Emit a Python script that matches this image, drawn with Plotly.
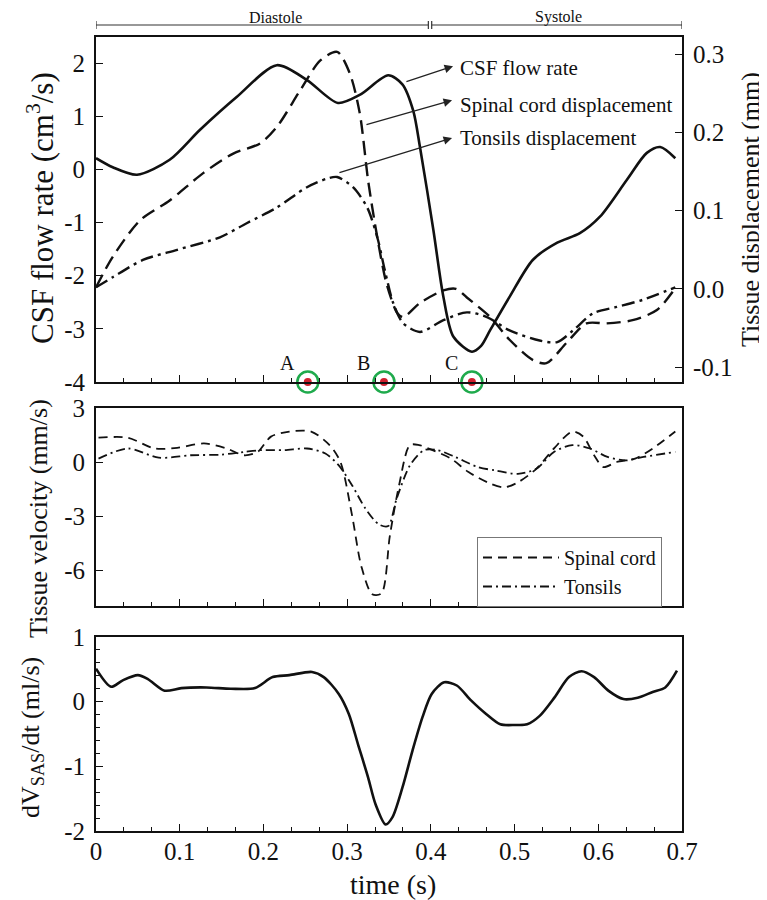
import plotly.graph_objects as go

# ---------------- data ----------------
t_csf = [0, 0.02, 0.049, 0.088, 0.124, 0.168, 0.216, 0.252, 0.289, 0.315, 0.349, 0.366, 0.379, 0.387,
         0.403, 0.415, 0.427, 0.449, 0.46, 0.471, 0.494, 0.522, 0.551, 0.578, 0.602, 0.634, 0.658, 0.674, 0.692]
csf_flow = [0.21, 0.04, -0.10, 0.18, 0.74, 1.36, 1.96, 1.68, 1.25, 1.40, 1.77, 1.6, 1.1, 0.42,
            -1.14, -2.40, -3.15, -3.43, -3.32, -3.02, -2.4, -1.70, -1.38, -1.2, -0.89, -0.2, 0.31, 0.42, 0.21]

t_sc_disp = [0, 0.02, 0.053, 0.088, 0.128, 0.164, 0.196, 0.216, 0.244, 0.268, 0.288, 0.303, 0.315, 0.325,
             0.336, 0.347, 0.36, 0.367, 0.387, 0.415, 0.43, 0.443, 0.471, 0.494, 0.522, 0.538, 0.562,
             0.586, 0.61, 0.641, 0.67, 0.692]
sc_disp = [0.002, 0.041, 0.088, 0.113, 0.148, 0.173, 0.186, 0.207, 0.254, 0.292, 0.303, 0.276, 0.225, 0.139,
           0.066, 0.007, -0.031, -0.036, -0.018, -0.002, 0.0, -0.011, -0.036, -0.065, -0.091, -0.095, -0.069,
           -0.044, -0.044, -0.04, -0.027, 0.001]

t_ton_disp = [0, 0.02, 0.056, 0.097, 0.148, 0.18, 0.216, 0.252, 0.276, 0.288, 0.307, 0.324, 0.336, 0.345,
              0.355, 0.367, 0.387, 0.415, 0.443, 0.467, 0.494, 0.53, 0.551, 0.57, 0.594, 0.622, 0.653, 0.692]
ton_disp = [0.002, 0.015, 0.037, 0.05, 0.066, 0.084, 0.104, 0.13, 0.141, 0.143, 0.13, 0.104, 0.066, 0.024,
            -0.018, -0.044, -0.055, -0.04, -0.03, -0.036, -0.053, -0.066, -0.068, -0.053, -0.031, -0.023, -0.014, 0.002]

t_sc_vel = [0.003, 0.038, 0.07, 0.097, 0.129, 0.156, 0.177, 0.193, 0.209, 0.231, 0.257, 0.279, 0.292, 0.306,
            0.317, 0.33, 0.341, 0.351, 0.362, 0.375, 0.386, 0.402, 0.424, 0.445, 0.472, 0.488, 0.504, 0.526,
            0.547, 0.569, 0.582, 0.595, 0.606, 0.622, 0.644, 0.665, 0.692]
sc_vel = [1.35, 1.35, 0.75, 0.79, 1.03, 0.75, 0.375, 0.56, 1.41, 1.69, 1.69, 0.94, 0.0, -3.0,
          -5.8, -7.35, -7.3, -4.1, -1.3, 0.94, 0.94, 0.66, 0.19, -0.56, -1.22, -1.41, -1.13, -0.38,
          0.75, 1.69, 1.41, 0.375, -0.28, 0.0, 0.19, 0.75, 1.69]

t_ton_vel = [0.003, 0.038, 0.075, 0.113, 0.15, 0.177, 0.198, 0.225, 0.252, 0.274, 0.29, 0.306, 0.322, 0.338,
             0.349, 0.359, 0.375, 0.392, 0.408, 0.429, 0.456, 0.477, 0.504, 0.526, 0.547, 0.569, 0.59,
             0.611, 0.633, 0.654, 0.692]
ton_vel = [0.19, 0.75, 0.24, 0.375, 0.41, 0.56, 0.66, 0.66, 0.75, 0.47, -0.19, -1.3, -2.6, -3.47,
           -3.56, -2.06, -0.19, 0.66, 0.66, 0.28, -0.28, -0.47, -0.66, -0.375, 0.56, 0.94, 0.75,
           0.28, 0.09, 0.28, 0.56]

t_dv = [0, 0.018, 0.032, 0.05, 0.062, 0.082, 0.102, 0.132, 0.161, 0.19, 0.211, 0.231, 0.258, 0.272, 0.29,
        0.302, 0.313, 0.325, 0.334, 0.346, 0.354, 0.366, 0.378, 0.39, 0.401, 0.416, 0.431, 0.448, 0.466,
        0.483, 0.501, 0.515, 0.53, 0.548, 0.565, 0.58, 0.595, 0.612, 0.63, 0.647, 0.665, 0.68, 0.694]
dv_sas = [0.51, 0.23, 0.33, 0.41, 0.35, 0.17, 0.21, 0.22, 0.2, 0.21, 0.38, 0.41, 0.46, 0.38, 0.12,
          -0.19, -0.66, -1.17, -1.59, -1.9, -1.79, -1.33, -0.76, -0.24, 0.12, 0.30, 0.25, 0.02, -0.19,
          -0.35, -0.36, -0.35, -0.22, 0.07, 0.38, 0.47, 0.38, 0.17, 0.04, 0.06, 0.15, 0.22, 0.48]

point_t = [0.253, 0.344, 0.449]
point_y = [-4, -4, -4]
point_labels = ["A", "B", "C"]

x_ticks = [0, 0.1, 0.2, 0.3, 0.4, 0.5, 0.6, 0.7]
x_ticktext = ["0", "0.1", "0.2", "0.3", "0.4", "0.5", "0.6", "0.7"]
y1_ticks = [2, 1, 0, -1, -2, -3, -4]
y1_text = ["2", "1", "0", "-1", "-2", "-3", "-4"]
y2_ticks = [0.3, 0.2, 0.1, 0.0, -0.1]
y2_text = ["0.3", "0.2", "0.1", "0.0", "-0.1"]
y3_ticks = [3, 0, -3, -6]
y3_text = ["3", "0", "-3", "-6"]
y4_ticks = [1, 0, -1, -2]
y4_text = ["1", "0", "-1", "-2"]

phase_names = ["Diastole", "Systole"]
phase_centers = [0.215, 0.552]
phase_bounds = [0.0, 0.397, 0.401, 0.7]

# ---------------- figure ----------------
FONT = "Liberation Serif"
INK = "#111111"
W, H = 767, 900
OFF = 8              # page body margin offset (screen px)
L_SCR, R_SCR = 96, 682  # plot-area left/right edges on screen
ML = L_SCR - OFF
MR = W - (R_SCR - OFF)
PW = R_SCR - L_SCR


def py(p):  # screen pixel y -> paper y
    return 1 - (p - OFF) / H


def px(p):  # screen pixel x -> paper x
    return (p - L_SCR) / PW


fig = go.Figure()

sm = 0.8
fig.add_trace(go.Scatter(x=t_csf, y=csf_flow, mode="lines", line=dict(color=INK, width=2.6, shape="spline", smoothing=sm),
                         xaxis="x", yaxis="y", showlegend=False))
fig.add_trace(go.Scatter(x=t_sc_disp, y=sc_disp, mode="lines",
                         line=dict(color=INK, width=2.4, dash="14px,7px", shape="spline", smoothing=sm),
                         xaxis="x", yaxis="y2", showlegend=False))
fig.add_trace(go.Scatter(x=t_ton_disp, y=ton_disp, mode="lines",
                         line=dict(color=INK, width=2.4, dash="13px,5px,3px,5px", shape="spline", smoothing=sm),
                         xaxis="x", yaxis="y2", showlegend=False))

fig.add_trace(go.Scatter(x=point_t, y=point_y, mode="markers", cliponaxis=False,
                         marker=dict(symbol="circle-open", size=21, line=dict(color="#1faa4c", width=2.5), color="#1faa4c"),
                         xaxis="x", yaxis="y", showlegend=False))
fig.add_trace(go.Scatter(x=point_t, y=point_y, mode="markers", cliponaxis=False,
                         marker=dict(symbol="circle", size=8, color="#d0202e"),
                         xaxis="x", yaxis="y", showlegend=False))

fig.add_trace(go.Scatter(x=t_sc_vel, y=sc_vel, mode="lines", name="Spinal cord",
                         line=dict(color=INK, width=1.8, dash="9px,6px", shape="spline", smoothing=sm),
                         xaxis="x2", yaxis="y3"))
fig.add_trace(go.Scatter(x=t_ton_vel, y=ton_vel, mode="lines", name="Tonsils",
                         line=dict(color=INK, width=1.8, dash="9px,4px,2px,4px", shape="spline", smoothing=sm),
                         xaxis="x2", yaxis="y3"))

fig.add_trace(go.Scatter(x=t_dv, y=dv_sas, mode="lines", line=dict(color=INK, width=2.6, shape="spline", smoothing=sm),
                         xaxis="x3", yaxis="y4", showlegend=False))

tickfont = dict(family=FONT, size=25, color=INK)
common_x = dict(range=[0, 0.7], showline=True, mirror=True, linecolor=INK, linewidth=2, ticks="inside",
                ticklen=7, tickwidth=1.2, tickcolor=INK, tickvals=x_ticks, ticktext=x_ticktext,
                showgrid=False, zeroline=False, tickfont=tickfont, automargin=False,
                minor=dict(ticks="inside", ticklen=4, tickwidth=1, tickcolor=INK, dtick=0.1 / 3, tick0=0, showgrid=False))
common_y = dict(showline=True, mirror=True, linecolor=INK, linewidth=2, ticks="inside", ticklen=7,
                tickwidth=1.2, tickcolor=INK, showgrid=False, zeroline=False, tickfont=tickfont, ticklabelstandoff=4,
                automargin=False)

dom1 = [py(382), py(37)]
dom2 = [py(606), py(408)]
dom3 = [py(831), py(637)]

fig.update_layout(
    template="none",
    width=W, height=H,
    margin=dict(l=ML, r=MR, t=0, b=0, autoexpand=False),
    paper_bgcolor="white", plot_bgcolor="white",
    font=dict(family=FONT, color=INK),
    xaxis=dict(common_x, anchor="y", domain=[0, 1], showticklabels=False),
    yaxis=dict(common_y, domain=dom1, range=[-4, 2.49], tickvals=y1_ticks, ticktext=y1_text),
    yaxis2=dict(common_y, overlaying="y", side="right", anchor="x", range=[-0.119, 0.322],
                tickvals=y2_ticks, ticktext=y2_text, mirror=False),
    xaxis2=dict(common_x, anchor="y3", domain=[0, 1], showticklabels=False, matches="x"),
    yaxis3=dict(common_y, domain=dom2, range=[-8, 3], tickvals=y3_ticks, ticktext=y3_text, anchor="x2"),
    xaxis3=dict(common_x, anchor="y4", domain=[0, 1], showticklabels=True, matches="x", ticklabelstandoff=-3),
    yaxis4=dict(common_y, domain=dom3, range=[-2, 1], tickvals=y4_ticks, ticktext=y4_text, anchor="x3",
                minor=dict(ticks="inside", ticklen=4, tickwidth=1, tickcolor=INK, dtick=0.2, tick0=0, showgrid=False)),
    legend=dict(x=px(477), y=py(537), xanchor="left", yanchor="top", bgcolor="white",
                bordercolor="#777777", borderwidth=1, font=dict(family=FONT, size=20, color=INK),
                itemwidth=76, tracegroupgap=0),
    showlegend=True,
)

ann = []
# axis titles
title_specs = [
    ("CSF flow rate (cm<sup>3</sup>/s)", 40, 208, -90, 31),
    ("Tissue displacement (mm)", 750, 210, -90, 26),
    ("Tissue velocity (mm/s)", 38, 519, -90, 26),
    ("dV<sub>SAS</sub>/dt (ml/s)", 32, 738, -90, 26),
    ("time (s)", 393, 884, 0, 28),
]
for txt, sx, sy, ang, fs in title_specs:
    ann.append(dict(text=txt, xref="paper", yref="paper", x=px(sx), y=py(sy), xanchor="center", yanchor="middle",
                    textangle=ang, showarrow=False, font=dict(family=FONT, size=fs, color=INK)))

# arrows with labels (top panel)
arrow_specs = [
    ("CSF flow rate", 0.369, 1.643, 0.4265, 1.94, 1.906),
    ("Spinal cord displacement", 0.3213, 0.835, 0.4253, 1.30, 1.21),
    ("Tonsils displacement", 0.289, -0.068, 0.4253, 0.59, 0.59),
]
for txt, tx, ty, hx, hy, ly in arrow_specs:
    ann.append(dict(x=hx, y=hy, ax=tx, ay=ty, xref="x", yref="y", axref="x", ayref="y", text="",
                    showarrow=True, arrowhead=2, arrowsize=1.3, arrowwidth=1.3, arrowcolor="#222222"))
    ann.append(dict(x=0.4324, y=ly, xref="x", yref="y", text=txt, showarrow=False, xanchor="left", yanchor="middle",
                    font=dict(family=FONT, size=21, color=INK)))

for lab, xt, yt in zip(point_labels, point_t, point_y):
    ann.append(dict(x=xt, y=yt, xref="x", yref="y", text=lab, showarrow=False, xshift=-20, yshift=19,
                    xanchor="center", yanchor="middle", font=dict(family=FONT, size=20, color=INK)))

# phase bar
for name, c in zip(phase_names, phase_centers):
    ann.append(dict(x=c, y=py(17), xref="x", yref="paper", text=name, showarrow=False, yanchor="middle",
                    xanchor="center", font=dict(family=FONT, size=16, color=INK)))

shapes = []
ybar = py(25)
shapes.append(dict(type="line", xref="x", yref="paper", x0=phase_bounds[0], x1=phase_bounds[1], y0=ybar, y1=ybar,
                   line=dict(color="#333333", width=1.2)))
shapes.append(dict(type="line", xref="x", yref="paper", x0=phase_bounds[2], x1=phase_bounds[3], y0=ybar, y1=ybar,
                   line=dict(color="#333333", width=1.2)))
for b in phase_bounds:
    shapes.append(dict(type="line", xref="x", yref="paper", x0=b, x1=b, y0=ybar - 4 / H, y1=ybar + 4 / H,
                       line=dict(color="#333333", width=1.2)))

fig.update_layout(annotations=ann, shapes=shapes)

fig.write_html("out.html")
